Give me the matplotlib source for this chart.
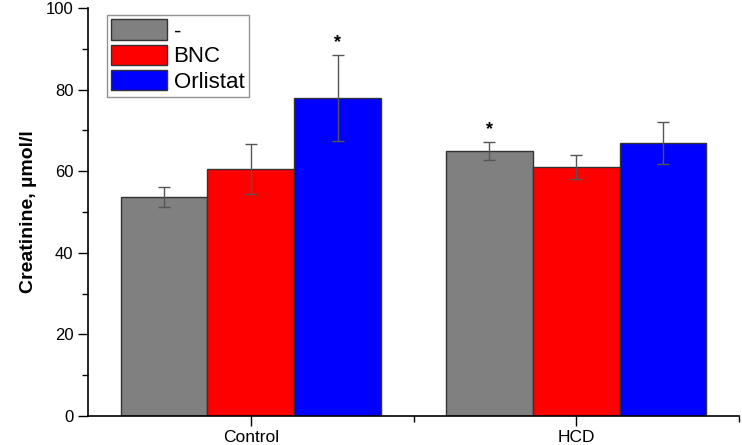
import numpy as np
import matplotlib
matplotlib.use("Agg")
import matplotlib.pyplot as plt

plt.rcParams['font.family'] = ['Liberation Sans', 'DejaVu Sans']

# data
groups = ['Control', 'HCD']
series = ['-', 'BNC', 'Orlistat']
colors = ['#808080', '#ff0000', '#0000ff']
means = {
    '-':        [53.7, 65.0],
    'BNC':      [60.5, 61.1],
    'Orlistat': [77.9, 66.9],
}
errs = {
    '-':        [2.5, 2.2],
    'BNC':      [6.1, 3.0],
    'Orlistat': [10.5, 5.2],
}
# significance marks: (group index, series name)
stars = [(0, 'Orlistat'), (1, '-')]

fig = plt.figure(figsize=(7.42, 4.45), dpi=100)
ax = fig.add_axes([0.1186, 0.065, 0.8774, 0.917])

x = np.arange(1, len(groups) + 1)
w = 0.8 / len(series)
for i, (name, col) in enumerate(zip(series, colors)):
    pos = x + (i - 1) * w
    ax.bar(pos, means[name], width=w, color=col, edgecolor='#333333',
           linewidth=1.0, label=name, zorder=2)
    ax.errorbar(pos, means[name], yerr=errs[name], fmt='none',
                ecolor='#555555', elinewidth=1.0, capsize=4, capthick=1.0,
                zorder=3)

for g, name in stars:
    i = series.index(name)
    top = means[name][g] + errs[name][g]
    ax.text(x[g] + (i - 1) * w, top + 1.0, '*', ha='center', va='bottom',
            fontsize=13, fontweight='bold')

ax.set_xlim(0.5, 2.5)
ax.set_ylim(0, 100)
ax.set_yticks([0, 20, 40, 60, 80, 100])
ax.set_yticks([10, 30, 50, 70, 90], minor=True)
ax.set_xticks(x)
ax.set_xticklabels(groups, fontsize=12.5)
ax.set_xticks([1.5, 2.5], minor=True)
ax.tick_params(axis='y', which='major', labelsize=12, length=7, width=1)
ax.tick_params(axis='x', which='major', length=7, width=1, pad=3)
ax.tick_params(axis='both', which='minor', length=4, width=1)

ax.spines['top'].set_visible(False)
ax.spines['right'].set_visible(False)
ax.spines['left'].set_linewidth(1.2)
ax.spines['bottom'].set_linewidth(1.2)

ax.set_ylabel('Creatinine, µmol/l', fontsize=14, fontweight='bold', labelpad=6)

leg = ax.legend(loc='upper left', bbox_to_anchor=(0.029, 0.983), fontsize=16,
                frameon=True, fancybox=False, edgecolor='#777777',
                handlelength=2.5, handleheight=1.05, handletextpad=0.3,
                labelspacing=0.1, borderpad=0.2, borderaxespad=0.0)
leg.get_frame().set_linewidth(1.0)

plt.savefig('out.png', dpi=100)
